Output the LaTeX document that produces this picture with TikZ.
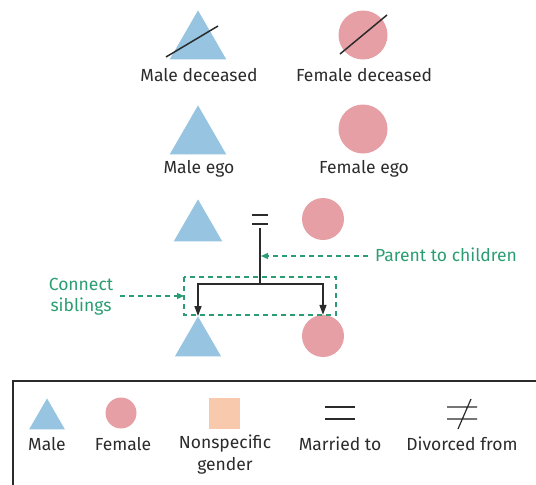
\documentclass[tikz,border=0pt]{standalone}
\usepackage{fontspec}
\setmainfont{Fira Sans}[Scale=1]
\usetikzlibrary{arrows.meta,shapes.geometric}
\definecolor{mblue}{HTML}{96C4E1}
\definecolor{fpink}{HTML}{E6A0A5}
\definecolor{npeach}{HTML}{F9C9AE}
\definecolor{gr}{HTML}{2A9D73}
\definecolor{tx}{HTML}{2B2B2B}
\tikzset{
  male/.style={fill=mblue,draw=none,isosceles triangle,isosceles triangle apex angle=60,shape border rotate=90,inner sep=0pt,minimum height=#1,anchor=apex},
  female/.style={fill=fpink,draw=none,circle,inner sep=0pt,minimum size=#1},
  lbl/.style={text=tx,font=\fontsize{17.5}{22}\selectfont,inner sep=0pt},
  glbl/.style={text=gr,font=\fontsize{17.5}{21}\selectfont,inner sep=0pt},
  rel/.style={draw=tx,line width=1.5pt},
  gline/.style={draw=gr,line width=1.2pt,dash pattern=on 5pt off 4pt},
  garrow/.style={gline,-{Triangle[length=7pt,width=6pt]}},
  barrow/.style={rel,-{Triangle[length=10pt,width=7pt]}},
}
\begin{document}
\begin{tikzpicture}[x=1pt,y=-1pt]
\useasboundingbox (0,0) rectangle (536,485);
% row 1: deceased
\node[male=49pt] (md) at (198,10) {};
\draw[tx,line width=1.5pt] (166,57) -- (218,26);
\node[female=49pt] (fd) at (363,35) {};
\draw[tx,line width=1.5pt] (340,54) -- (387,15);
\node[lbl] (mdl) at (199,75) {Male deceased};
\node[lbl] (fdl) at (364,75) {Female deceased};
% row 2: ego
\node[male=49pt] (me) at (198,105) {};
\node[female=49pt] (fe) at (363,129) {};
\node[lbl] (mel) at (199,169) {Male ego};
\node[lbl] (fel) at (364,169) {Female ego};
% row 3: family
\node[male=42pt] (fa) at (198,199) {};
\node[female=42pt] (mo) at (323,219) {};
\coordinate (eq) at (260,219);
\draw[rel] (252,215) -- (268,215) (252,224) -- (268,224);
\coordinate (top) at (260,228);
\coordinate (jn) at (260,284);
\node[male=40pt] (son) at (198,316) {};
\node[female=42pt] (da) at (323,336) {};
\draw[rel] (top) -- (jn);
\draw[barrow] (jn) -| (son.apex);
\draw[barrow] (jn) -| (da.north);
% green annotations
\draw[gline] (184,277) rectangle (336,315);
\node[glbl,anchor=west] (ptc) at (375,255) {Parent to children};
\coordinate (ptcs) at (368,256);
\coordinate (ptce) at (261,256);
\draw[garrow] (ptcs) -- (ptce);
\node[glbl,align=center] (cs) at (81,297) {Connect\\siblings};
\coordinate (css) at (120,296);
\coordinate (cse) at (184,296);
\draw[garrow] (css) -- (cse);
% legend
\draw[tx,line width=1.6pt] (13,485) -- (13,381) -- (536,381);
\node[male=31pt] (lm) at (47,398) {};
\node[female=31pt] (lf) at (121,413) {};
\node[fill=npeach,draw=none,minimum size=31pt,inner sep=0pt] (ln) at (224.5,413) {};
\draw[tx,line width=1.2pt] (325,407) -- (355,407) (325,419) -- (355,419);
\draw[tx,line width=1.2pt] (447,407) -- (477,407) (447,419) -- (477,419) (458,429) -- (471,399);
\node[lbl] (lml) at (47,444) {Male};
\node[lbl] (lfl) at (123,444) {Female};
\node[lbl,align=center] (lnl) at (225,455) {Nonspecific\\gender};
\node[lbl] (lmt) at (340,444) {Married to};
\node[lbl] (ldf) at (462,444) {Divorced from};
\end{tikzpicture}
\end{document}
